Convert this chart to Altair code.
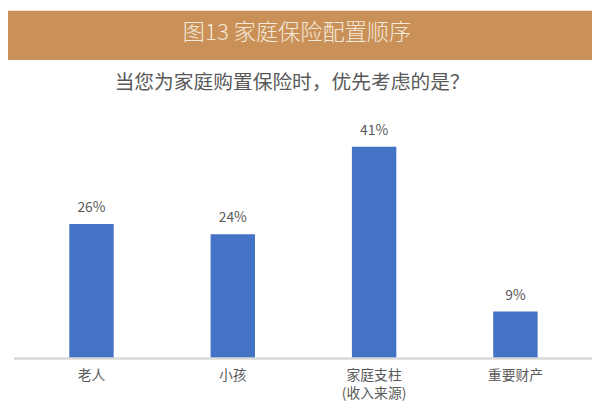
import altair as alt
import pandas as pd

categories = ["老人", "小孩", "家庭支柱\n(收入来源)", "重要财产"]
values = [26, 24, 41, 9]
labels = ["26%", "24%", "41%", "9%"]

title_text = "图13 家庭保险配置顺序"
subtitle_text = "当您为家庭购置保险时，优先考虑的是？"

df = pd.DataFrame({"cat": categories, "val": values, "lab": labels})

FONT = "Noto Sans CJK SC"
GRAY = "#595959"
W = 573
H = 261

x_enc = alt.X(
    "cat:N",
    sort=categories,
    scale=alt.Scale(paddingInner=0, paddingOuter=0),
    axis=alt.Axis(
        title=None,
        domain=False,
        ticks=False,
        labelAngle=0,
        labelPadding=11,
        labelFontSize=14,
        labelColor=GRAY,
        labelFont=FONT,
        labelLineHeight=18.5,
        labelExpr="split(datum.label, '\\n')",
    ),
)
y_enc = alt.Y("val:Q", scale=alt.Scale(domain=[0, 50]), axis=None)

header = alt.Chart(alt.Data(values=[{"t": title_text}])).mark_rect(
    color="#C99158"
).encode(
    x=alt.value(-13), x2=alt.value(W + 8), y=alt.value(-91), y2=alt.value(-41)
)

title = alt.Chart(alt.Data(values=[{"t": title_text}])).mark_text(
    font=FONT, fontSize=22.5, fontWeight=300, color="#F5E9DA", align="center", baseline="middle"
).encode(text="t:N", x=alt.value(280), y=alt.value(-68))

subtitle = alt.Chart(alt.Data(values=[{"t": subtitle_text}])).mark_text(
    font=FONT, fontSize=20, color=GRAY, align="center", baseline="middle"
).encode(text="t:N", x=alt.value(275), y=alt.value(-17.5))

baseline = alt.Chart(alt.Data(values=[{"t": 0}])).mark_rule(
    color="#D9D9D9", strokeWidth=2.5
).encode(x=alt.value(-7), x2=alt.value(W + 8), y=alt.value(H + 0.5))

bars = alt.Chart(df).mark_bar(color="#4472C4", size=45).encode(x=x_enc, y=y_enc)

texts = alt.Chart(df).mark_text(
    font=FONT, fontSize=14, color=GRAY, dy=-12, baseline="alphabetic"
).encode(x=x_enc, y=y_enc, text="lab:N")

chart = alt.layer(header, title, subtitle, bars, baseline, texts).properties(
    width=W,
    height=H,
    padding={"left": 13, "top": 91, "right": 6, "bottom": 41},
    autosize=alt.AutoSizeParams(type="none"),
    background="white",
).configure_view(stroke=None)

chart.save("out.html", embed_options={"renderer": "svg", "actions": False})
